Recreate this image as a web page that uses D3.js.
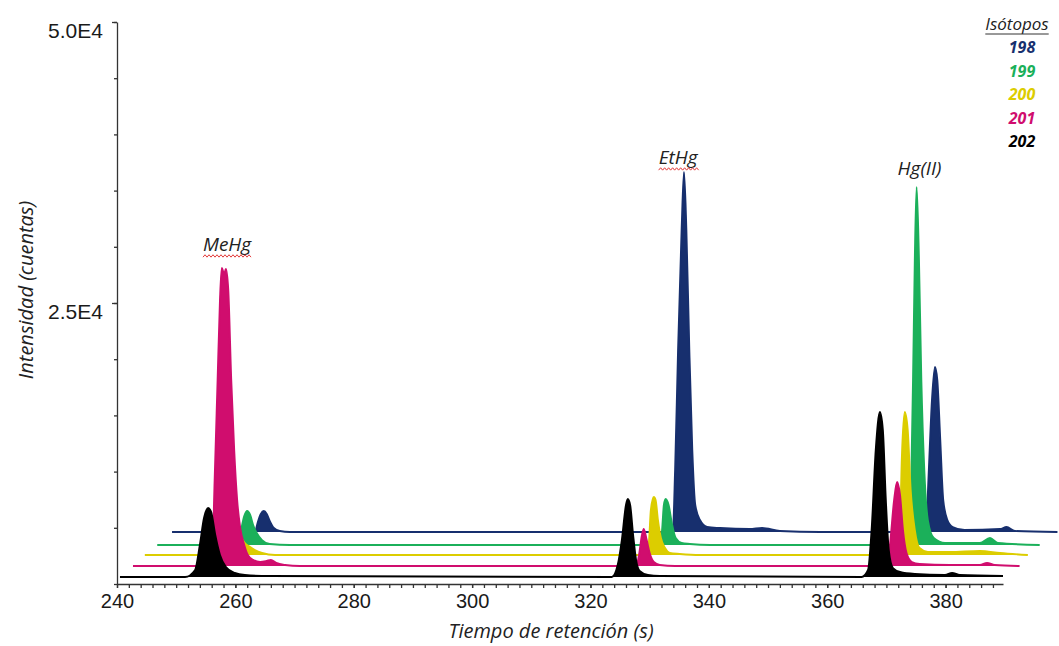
<!DOCTYPE html>
<html>
<head>
<meta charset="utf-8">
<script src="https://cdn.jsdelivr.net/npm/d3@7.9.0/dist/d3.min.js"></script>
<style>
  html, body { margin: 0; background: #fff; }
  svg { display: block; }
  .axis path, .axis line { stroke: #333; stroke-width: 1.3; }
  .axis text { font-family: "Liberation Sans", Arial, sans-serif; font-size: 20px; fill: #1a1a1a; }
  .title { font-family: "Open Sans", Lato, sans-serif; font-style: italic; font-size: 20px; fill: #222; }
</style>
</head>
<body>
<div id="chart"></div>
<script>
// isotopes, drawn back (198) to front (202)
const isotopes = ['198', '199', '200', '201', '202'];
const colors   = ['#172f6e', '#1bb05a', '#dccd00', '#d00d6e', '#000000'];
// baseline level of each stacked trace (counts)
const baselines = [4630, 3470, 2580, 1600, 620];

// [retention time (s), intensity (counts)]
const trace198 = [
  [249.3,4630],[263.3,4630],[263.8,5520],[264.3,6230],[264.8,6490],[265.3,6230],[265.8,5610],[266.5,4980],[267.5,4720],[269.2,4630],
  [333.9,4630],[334.3,10140],[334.8,20820],[335.4,31500],[335.8,36660],[336.2,31500],[336.7,20820],[337.2,11920],[337.7,7030],[338.5,5690],
  [339.7,5070],[341.9,4980],[346.9,4890],[349.0,4980],[352.0,4720],[358.8,4630],
  [376.7,4630],[377.1,9250],[377.7,16370],[378.2,19310],[378.6,18150],[379.1,12810],[379.6,7470],[380.3,5690],[381.2,5070],[383.2,4800],
  [389.2,4890],[390.3,5070],[391.7,4720],[398.9,4630]
];
const trace199 = [
  [246.8,3470],[260.4,3470],[260.9,4630],[261.5,6050],[262.0,6490],[262.5,6140],[263.0,5250],[263.6,4540],[264.5,3910],[265.8,3560],[269.2,3470],
  [331.7,3470],[332.1,4800],[332.4,7030],[332.7,7560],[333.2,7030],[333.8,5250],[334.4,4090],[335.4,3650],[336.8,3560],[340.2,3470],
  [373.9,3470],[374.2,9250],[374.5,18150],[374.8,28830],[375.1,35320],[375.5,28830],[375.9,18150],[376.4,10140],[377.0,5690],[378.0,4090],
  [379.9,3650],[385.8,3650],[387.5,4090],[388.8,3650],[395.9,3470]
];
const trace200 = [
  [244.7,2580],[258.1,2580],[258.8,4800],[259.4,6140],[260.1,5520],[260.8,4360],[261.6,3650],[262.5,3290],[263.3,3020],[264.5,2760],[266.7,2580],
  [329.4,2580],[329.9,3910],[330.2,6580],[330.7,7740],[331.0,7470],[331.4,5690],[331.9,4090],[332.6,3200],[333.4,2760],[335.1,2670],[338.5,2580],
  [371.9,2580],[372.3,4800],[372.6,11030],[373.1,15300],[373.6,13700],[374.1,8360],[374.8,4800],[375.6,3200],[377.0,2850],[380.7,2850],
  [385.8,2940],[389.2,2760],[393.9,2580]
];
const trace201 = [
  [242.7,1600],[255.6,1600],[256.1,2580],[256.5,9250],[257.0,18150],[257.4,25270],[257.7,28110],[258.1,27580],[258.4,28030],[258.8,26160],
  [259.3,18150],[259.8,11920],[260.3,7470],[260.8,5070],[261.5,3470],[262.1,2580],[263.0,2140],[264.2,1960],[265.3,2050],[266.0,2140],
  [266.9,1870],[268.4,1690],[270.9,1600],
  [327.7,1600],[328.2,2580],[328.7,4360],[329.0,4890],[329.5,3910],[330.0,2760],[330.7,1960],[331.7,1690],[334.3,1600],
  [370.1,1600],[370.6,3470],[371.3,7470],[371.8,9070],[372.3,7920],[372.8,4800],[373.4,2760],[374.3,1960],[375.6,1780],[380.7,1690],
  [385.8,1690],[387.0,1870],[388.3,1690],[392.5,1600]
];
const trace202 = [
  [240.5,620],[251.5,620],[253.2,1250],[254.0,3470],[254.7,5870],[255.4,6760],[255.9,6410],[256.6,4360],[257.4,2580],[258.4,1510],
  [259.9,980],[261.6,800],[265.8,710],
  [323.6,620],[324.6,1690],[325.3,3910],[326.0,7030],[326.3,7560],[326.7,7030],[327.2,4360],[327.7,2140],[328.3,1160],[329.7,800],[331.7,710],
  [365.8,620],[366.9,1250],[367.5,4800],[368.2,11920],[368.9,15300],[369.4,13700],[369.9,7470],[370.4,3020],[371.1,1420],[372.3,1070],
  [374.8,890],[379.9,800],[381.1,980],[382.4,800],[389.7,710]
];
const traces = [trace198, trace199, trace200, trace201, trace202];

// axis ticks
const xLabelTicks = [240, 260, 280, 300, 320, 340, 360, 380];
const xMinorTicks = d3.range(240, 390, 2);
const yLabelTicks = [25000, 50000];
const yMinorTicks = d3.range(0, 50001, 5000);
const yTickText   = { 25000: '2.5E4', 50000: '5.0E4' };

// peak annotations: [label, time, intensity at text baseline, spell-check squiggle]
const peakLabels = [
  ['MeHg',   258.6, 29630, true],
  ['EtHg',   334.8, 37370, true],
  ['Hg(II)', 375.6, 36390, false],
];

function renderChart() {
  const width = 1059;
  const height = 646;
  const margin = { top: 22, right: 56, bottom: 62, left: 117 };

  const svg = d3.select('#chart')
    .append('svg')
    .attr('width', width)
    .attr('height', height);

  const xScale = d3.scaleLinear()
    .domain([240, 389.7])
    .range([margin.left, width - margin.right]);

  const yScale = d3.scaleLinear()
    .domain([0, 50000])
    .range([height - margin.bottom, margin.top]);

  // traces, back to front
  const area = (base) => d3.area()
    .x(d => xScale(d[0]))
    .y0(yScale(base))
    .y1(d => yScale(d[1]))
    .curve(d3.curveMonotoneX);

  const line = d3.line()
    .x(d => xScale(d[0]))
    .y(d => yScale(d[1]))
    .curve(d3.curveMonotoneX);

  const g = svg.append('g').attr('class', 'traces');
  traces.forEach((tr, i) => {
    g.append('path')
      .attr('d', area(baselines[i])(tr))
      .attr('fill', colors[i]);
    g.append('path')
      .attr('d', line(tr))
      .attr('fill', 'none')
      .attr('stroke', colors[i])
      .attr('stroke-width', 1.9);
  });

  // x axis
  svg.append('g')
    .attr('class', 'axis')
    .attr('transform', `translate(0, ${yScale(0)})`)
    .call(d3.axisBottom(xScale).tickValues(xMinorTicks).tickFormat('').tickSize(4).tickSizeOuter(0));

  svg.append('g')
    .attr('class', 'axis')
    .attr('transform', `translate(0, ${yScale(0)})`)
    .call(d3.axisBottom(xScale).tickValues(xLabelTicks).tickSize(4).tickPadding(6).tickSizeOuter(0))
    .call(s => s.select('.domain').remove());

  // y axis
  svg.append('g')
    .attr('class', 'axis')
    .attr('transform', `translate(${xScale(240)}, 0)`)
    .call(d3.axisLeft(yScale).tickValues(yMinorTicks).tickFormat('').tickSize(3).tickSizeOuter(0));

  svg.append('g')
    .attr('class', 'axis')
    .attr('transform', `translate(${xScale(240)}, 0)`)
    .call(d3.axisLeft(yScale).tickValues(yLabelTicks).tickFormat(d => yTickText[d]).tickSize(5).tickPadding(9))
    .call(s => s.select('.domain').remove())
    .call(s => s.selectAll('text').attr('dy', '0.74em').style('font-size', '21px'));

  // axis titles
  svg.append('text')
    .attr('class', 'title')
    .attr('x', 551)
    .attr('y', 638)
    .attr('text-anchor', 'middle')
    .text('Tiempo de retención (s)');

  svg.append('text')
    .attr('class', 'title')
    .attr('transform', 'translate(33, 290) rotate(-90)')
    .attr('text-anchor', 'middle')
    .text('Intensidad (cuentas)');

  // peak labels
  peakLabels.forEach(([name, t, v, squiggle]) => {
    const txt = svg.append('text')
      .attr('class', 'title')
      .attr('x', xScale(t))
      .attr('y', yScale(v))
      .attr('text-anchor', 'middle')
      .style('font-size', '19px')
      .text(name);
    if (squiggle) {
      const bb = txt.node().getBBox();
      const y0 = yScale(v) + 5;
      const pts = d3.range(bb.x, bb.x + bb.width, 2).map((x, k) => [x, y0 + (k % 2 ? -1.2 : 1.2)]);
      svg.append('path')
        .attr('d', d3.line()(pts))
        .attr('fill', 'none')
        .attr('stroke', '#e23b3b')
        .attr('stroke-width', 1);
    }
  });

  // legend
  const legend = svg.append('g').attr('class', 'legend');
  const head = legend.append('text')
    .attr('class', 'title')
    .attr('x', 1017)
    .attr('y', 30)
    .attr('text-anchor', 'middle')
    .style('font-size', '17px')
    .text('Isótopos');
  const hb = head.node().getBBox();
  legend.append('line')
    .attr('x1', hb.x).attr('x2', hb.x + hb.width)
    .attr('y1', 34).attr('y2', 34)
    .attr('stroke', '#333').attr('stroke-width', 1);

  legend.selectAll('text.iso')
    .data(isotopes)
    .join('text')
    .attr('class', 'iso')
    .attr('x', 1022)
    .attr('y', (d, i) => 53 + i * 23.5)
    .attr('text-anchor', 'middle')
    .style('font-family', '"Open Sans", Lato, sans-serif')
    .style('font-style', 'italic')
    .style('font-weight', 'bold')
    .style('font-size', '16px')
    .attr('fill', (d, i) => colors[i])
    .text(d => d);
}

renderChart();
</script>
</body>
</html>
